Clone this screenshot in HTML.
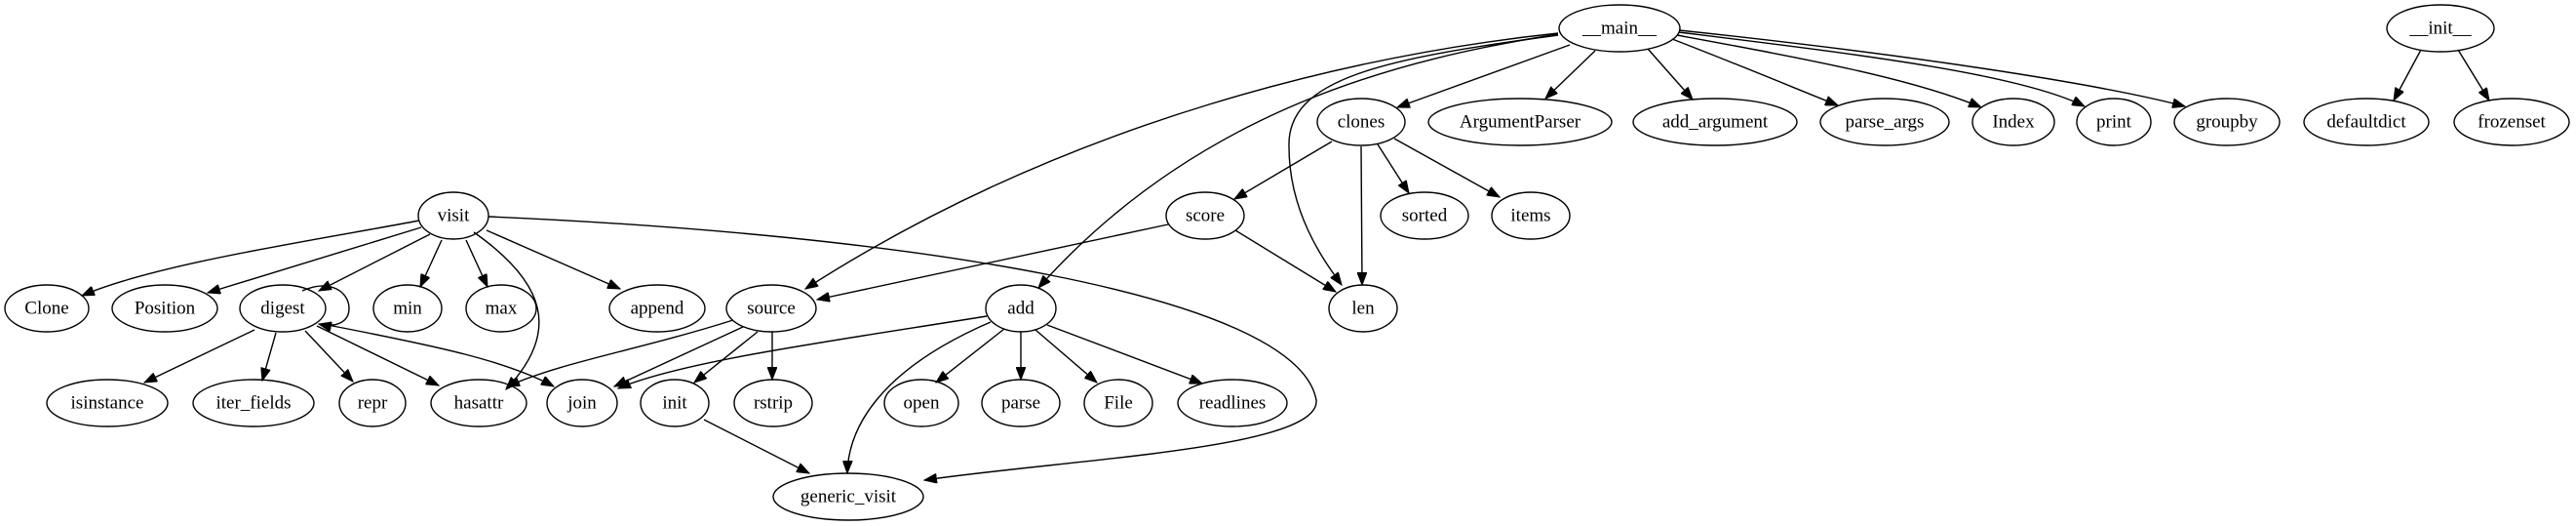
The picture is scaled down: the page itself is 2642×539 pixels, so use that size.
<!DOCTYPE html>
<html><head><meta charset="utf-8"><style>
html,body{margin:0;padding:0;background:#fff;width:2642px;height:539px;overflow:hidden}
svg{display:block}
text{font-family:"Liberation Serif",serif;font-size:19px;fill:#000;text-anchor:middle;dominant-baseline:central}
ellipse{fill:none;stroke:#000;stroke-width:1.4}
path{fill:none;stroke:#000;stroke-width:1.4}
</style></head><body>
<svg width="2642" height="539" viewBox="0 0 2642 539" xmlns="http://www.w3.org/2000/svg">
<defs><marker id="a" markerUnits="userSpaceOnUse" markerWidth="14" markerHeight="10" refX="13" refY="5" orient="auto"><path d="M0,0 L13,5 L0,10 Z" style="fill:#000;stroke:#000;stroke-width:1"/></marker></defs>
<g marker-end="url(#a)">
<!-- __main__ -->
<path d="M1610,46 L1433,110"/>
<path d="M1636,52 L1585,101"/>
<path d="M1690,50 L1736,102"/>
<path d="M1715,40 C1780,65 1840,90 1885,108"/>
<path d="M1720,36 C1850,60 1960,80 2032,110"/>
<path d="M1722,33 C1900,55 2070,75 2138,109"/>
<path d="M1722,31 C1950,55 2150,85 2241,109"/>
<path d="M1598,34 C1400,55 1100,120 826,296"/>
<path d="M1598,35 C1440,60 1230,110 1065,295"/>
<path d="M1598,36 C1420,60 1320,80 1322,150 C1322,220 1360,270 1376,292"/>
<!-- __init__ -->
<path d="M2483,51 L2455,103"/>
<path d="M2521,51 L2553,103"/>
<!-- clones -->
<path d="M1366,145 L1266,204"/>
<path d="M1396,150 L1397,292"/>
<path d="M1413,148 L1445,198"/>
<path d="M1430,142 L1538,202"/>
<!-- score -->
<path d="M1267,236 L1370,299"/>
<path d="M1198,230 L838,307"/>
<!-- visit -->
<path d="M430,226 C330,245 160,270 84,303"/>
<path d="M432,233 L213,300"/>
<path d="M441,240 L327,298"/>
<path d="M453,246 L431,294"/>
<path d="M478,246 L500,294"/>
<path d="M499,236 L636,296"/>
<path d="M486,238 C560,290 575,340 519,399"/>
<path d="M501,222 C920,240 1330,300 1350,410 C1355,460 1100,470 948,492"/>
<!-- digest -->
<path d="M310,298 C340,285 358,300 358,316 C358,330 345,336 327,332"/>
<path d="M261,338 L148,392"/>
<path d="M283,341 L269,390"/>
<path d="M313,339 L362,391"/>
<path d="M325,334 L450,395"/>
<path d="M336,333 C450,355 520,370 568,396"/>
<!-- source -->
<path d="M752,328 C650,360 580,370 520,396"/>
<path d="M762,335 L630,396"/>
<path d="M777,340 L712,392"/>
<path d="M792,340 L792,389"/>
<!-- add -->
<path d="M1012,324 C850,350 700,370 634,398"/>
<path d="M1016,330 C900,380 870,440 869,485"/>
<path d="M1030,337 L960,392"/>
<path d="M1047,340 L1047,389"/>
<path d="M1062,338 L1125,392"/>
<path d="M1074,333 L1233,393"/>
<!-- init -->
<path d="M722,430 L830,485"/>
</g>
<g>
<ellipse cx="1661" cy="29" rx="62" ry="24"/><text x="1661" y="29">__main__</text>
<ellipse cx="2503" cy="29" rx="55" ry="24"/><text x="2503" y="29">__init__</text>
<ellipse cx="1396" cy="125" rx="45" ry="24"/><text x="1396" y="125">clones</text>
<ellipse cx="1559" cy="125" rx="94" ry="24"/><text x="1559" y="125">ArgumentParser</text>
<ellipse cx="1759" cy="125" rx="84" ry="24"/><text x="1759" y="125">add_argument</text>
<ellipse cx="1933" cy="125" rx="66" ry="24"/><text x="1933" y="125">parse_args</text>
<ellipse cx="2065" cy="125" rx="42" ry="24"/><text x="2065" y="125">Index</text>
<ellipse cx="2168" cy="125" rx="38" ry="24"/><text x="2168" y="125">print</text>
<ellipse cx="2284" cy="125" rx="54" ry="24"/><text x="2284" y="125">groupby</text>
<ellipse cx="2427" cy="125" rx="64" ry="24"/><text x="2427" y="125">defaultdict</text>
<ellipse cx="2576" cy="125" rx="59" ry="24"/><text x="2576" y="125">frozenset</text>
<ellipse cx="465" cy="221" rx="36" ry="24"/><text x="465" y="221">visit</text>
<ellipse cx="1236" cy="221" rx="40" ry="24"/><text x="1236" y="221">score</text>
<ellipse cx="1461" cy="221" rx="45" ry="24"/><text x="1461" y="221">sorted</text>
<ellipse cx="1570" cy="221" rx="40" ry="24"/><text x="1570" y="221">items</text>
<ellipse cx="48" cy="316" rx="43" ry="24"/><text x="48" y="316">Clone</text>
<ellipse cx="169" cy="316" rx="54" ry="24"/><text x="169" y="316">Position</text>
<ellipse cx="290" cy="316" rx="44" ry="24"/><text x="290" y="316">digest</text>
<ellipse cx="418" cy="316" rx="35" ry="24"/><text x="418" y="316">min</text>
<ellipse cx="514" cy="316" rx="36" ry="24"/><text x="514" y="316">max</text>
<ellipse cx="674" cy="316" rx="49" ry="24"/><text x="674" y="316">append</text>
<ellipse cx="791" cy="316" rx="46" ry="24"/><text x="791" y="316">source</text>
<ellipse cx="1047" cy="316" rx="36" ry="24"/><text x="1047" y="316">add</text>
<ellipse cx="1398" cy="316" rx="35" ry="24"/><text x="1398" y="316">len</text>
<ellipse cx="110" cy="413" rx="62" ry="24"/><text x="110" y="413">isinstance</text>
<ellipse cx="260" cy="413" rx="62" ry="24"/><text x="260" y="413">iter_fields</text>
<ellipse cx="382" cy="413" rx="34" ry="24"/><text x="382" y="413">repr</text>
<ellipse cx="491" cy="413" rx="49" ry="24"/><text x="491" y="413">hasattr</text>
<ellipse cx="597" cy="413" rx="36" ry="24"/><text x="597" y="413">join</text>
<ellipse cx="692" cy="413" rx="35" ry="24"/><text x="692" y="413">init</text>
<ellipse cx="793" cy="413" rx="40" ry="24"/><text x="793" y="413">rstrip</text>
<ellipse cx="945" cy="413" rx="38" ry="24"/><text x="945" y="413">open</text>
<ellipse cx="1047" cy="413" rx="40" ry="24"/><text x="1047" y="413">parse</text>
<ellipse cx="1147" cy="413" rx="35" ry="24"/><text x="1147" y="413">File</text>
<ellipse cx="1264" cy="413" rx="56" ry="24"/><text x="1264" y="413">readlines</text>
<ellipse cx="870" cy="509" rx="77" ry="24"/><text x="870" y="509">generic_visit</text>
</g>
</svg>
</body></html>
